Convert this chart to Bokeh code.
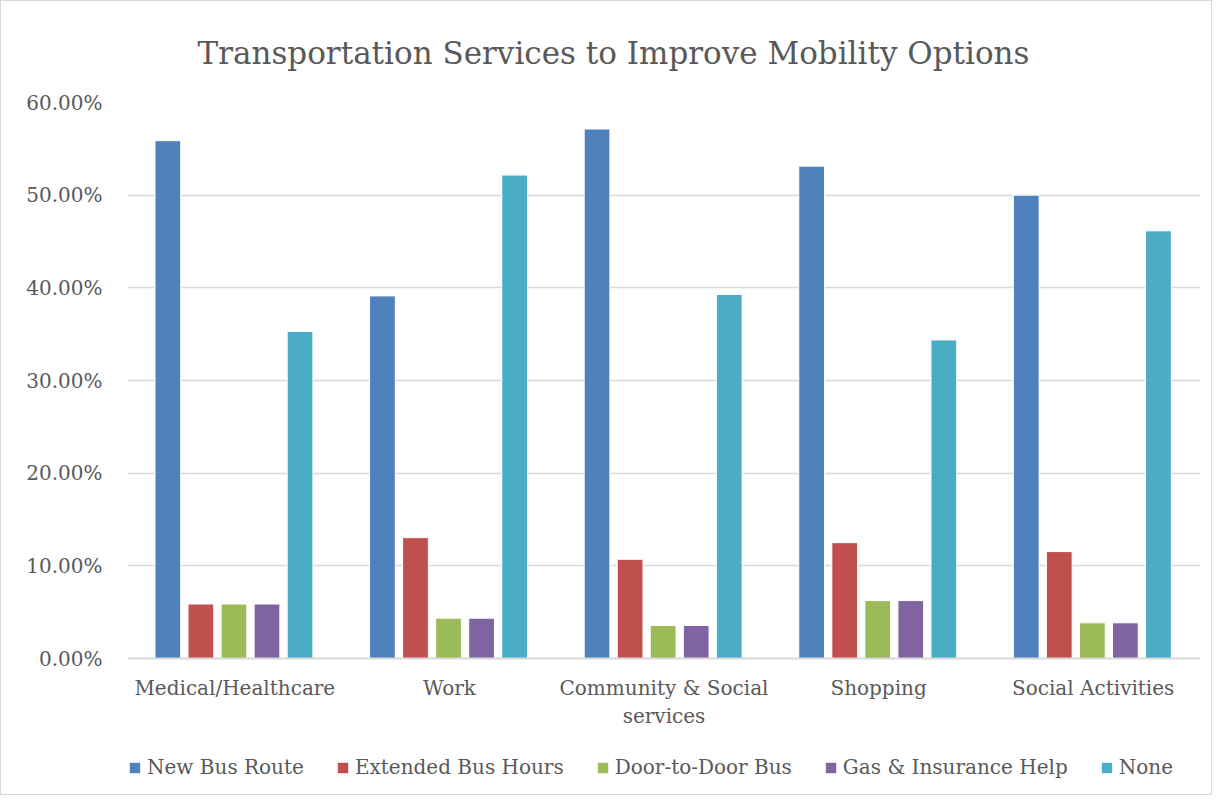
from bokeh.plotting import figure
from bokeh.layouts import column
from bokeh.models import (ColumnDataSource, FixedTicker, NumeralTickFormatter, Legend,
                          LegendItem, Range1d, Title)
from bokeh.transform import dodge
from bokeh.embed import file_html
from bokeh.resources import INLINE

categories = ["Medical/Healthcare", "Work", "Community & Social\nservices", "Shopping", "Social Activities"]
series_names = ["New Bus Route", "Extended Bus Hours", "Door-to-Door Bus", "Gas & Insurance Help", "None"]
new_bus_route = [0.5588, 0.3913, 0.5714, 0.5313, 0.5000]
extended_bus_hours = [0.0588, 0.1304, 0.1071, 0.1250, 0.1154]
door_to_door_bus = [0.0588, 0.0435, 0.0357, 0.0625, 0.0385]
gas_insurance_help = [0.0588, 0.0435, 0.0357, 0.0625, 0.0385]
none_values = [0.3529, 0.5217, 0.3929, 0.3438, 0.4615]
y_ticks = [0.0, 0.1, 0.2, 0.3, 0.4, 0.5, 0.6]

colors = ["#4F81BD", "#C0504D", "#9BBB59", "#8064A2", "#4BACC6"]
FONT = "DejaVu Serif"
TXT = "#595959"

xpos = [i + 0.5 for i in range(len(categories))]
src = ColumnDataSource(dict(x=xpos, s0=new_bus_route, s1=extended_bus_hours,
                            s2=door_to_door_bus, s3=gas_insurance_help, s4=none_values))

# ---- main chart ----
p = figure(width=1210, height=740, output_backend="svg", toolbar_location=None,
           x_range=Range1d(0, len(categories)), y_range=Range1d(0, 0.6),
           min_border_left=126, min_border_right=11, min_border_top=100, min_border_bottom=83)
p.title = None
t = Title(text="Transportation Services to Improve Mobility Options", align="left",
          text_font=FONT, text_font_size="31px", text_color=TXT, text_font_style="normal",
          offset=70, standoff=63)
p.add_layout(t, "above")

offsets = [-0.312, -0.158, -0.004, 0.150, 0.304]
for i, name in enumerate(series_names):
    p.vbar(x=dodge("x", offsets[i], range=p.x_range), top="s%d" % i, width=0.12,
           source=src, fill_color=colors[i], line_color="white", line_width=1)

p.yaxis.ticker = FixedTicker(ticks=y_ticks)
p.yaxis.formatter = NumeralTickFormatter(format="0.00%")
p.yaxis.axis_line_color = None
p.yaxis.major_tick_line_color = None
p.yaxis.minor_tick_line_color = None
p.yaxis.major_label_text_font = FONT
p.yaxis.major_label_text_font_size = "20px"
p.yaxis.major_label_text_color = TXT
p.yaxis.major_label_standoff = 19

p.xaxis.ticker = FixedTicker(ticks=xpos)
p.xaxis.major_label_overrides = {x: c for x, c in zip(xpos, categories)}
p.xaxis.axis_line_color = "#D9D9D9"
p.xaxis.axis_line_width = 2
p.xaxis.major_tick_line_color = None
p.xaxis.minor_tick_line_color = None
p.xaxis.major_label_text_font = FONT
p.xaxis.major_label_text_font_size = "20px"
p.xaxis.major_label_text_color = TXT
p.xaxis.major_label_standoff = 11

p.xgrid.grid_line_color = None
p.ygrid.ticker = FixedTicker(ticks=y_ticks)
p.ygrid.grid_line_color = "#D9D9D9"
p.ygrid.grid_line_width = 1.5
p.outline_line_color = None

# ---- legend strip: same series as hidden renderers, only their legend keys show ----
lg = figure(width=1210, height=53, output_backend="svg", toolbar_location=None,
            x_range=Range1d(0, len(categories)), y_range=Range1d(0, 0.6),
            x_axis_location=None, y_axis_location=None,
            min_border_left=0, min_border_right=0, min_border_top=0, min_border_bottom=0)
lg.xgrid.grid_line_color = None
lg.ygrid.grid_line_color = None
lg.outline_line_color = None
items = []
for i, name in enumerate(series_names):
    r = lg.vbar(x=dodge("x", offsets[i], range=lg.x_range), top="s%d" % i, width=0.12,
                source=src, fill_color=colors[i], line_color=None, visible=False)
    items.append(LegendItem(label=name, renderers=[r]))
legend = Legend(items=items, orientation="horizontal", location=(1, 15),
                label_text_font=FONT, label_text_font_size="20px", label_text_color=TXT,
                glyph_width=13, glyph_height=13, label_standoff=6, spacing=32,
                padding=0, margin=0, border_line_color=None, background_fill_alpha=0,
                inactive_fill_alpha=0.0)
lg.add_layout(legend, "center")

layout = column(p, lg, spacing=0)
layout.styles = {"border": "1px solid #D9D9D9"}

open("out.html", "w").write(file_html(layout, INLINE))
